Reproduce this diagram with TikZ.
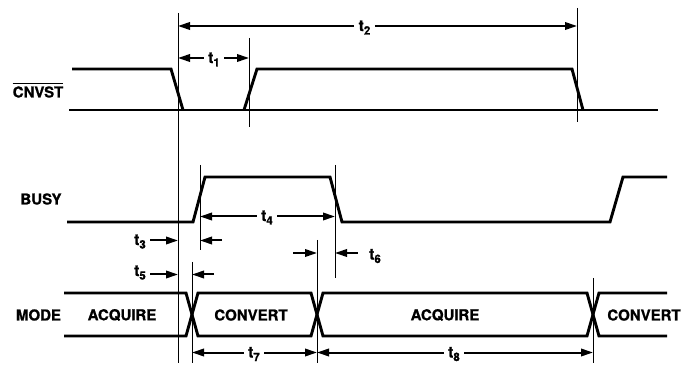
\documentclass[tikz,border=0pt]{standalone}
\usepackage{fontspec}
\setmainfont{TeX Gyre Heros}[BoldFeatures={FakeBold=1}]
\usetikzlibrary{arrows.meta}
\newcommand\tlab[1]{t\raisebox{-3.5pt}{\fontsize{11.5}{11.5}\selectfont #1}}
\tikzset{
  sig/.style={line width=2.9pt, line join=miter, line cap=butt},
  vline/.style={line width=1pt},
  dim/.style={line width=2pt, -{Triangle[length=12pt,width=7.5pt]}},
  lbl/.style={font=\fontsize{15}{15}\selectfont\bfseries, inner sep=0pt},
  tl/.style={font=\fontsize{15.5}{15.5}\selectfont\bfseries, inner ysep=0pt, inner xsep=4.5pt, anchor=base}
}
\begin{document}
\begin{tikzpicture}[x=1pt,y=-1pt]
\useasboundingbox (0,0) rectangle (686,366);

% ---- thin reference lines
\coordinate (vAt) at (178,13);  \coordinate (vAb) at (178,363);
\coordinate (vBt) at (249,38);  \coordinate (vBb) at (249,127);
\coordinate (vCt) at (577,8);   \coordinate (vCb) at (577,122);
\coordinate (vDt) at (200,165); \coordinate (vDb) at (200,250);
\coordinate (vEt) at (335,165); \coordinate (vEb) at (335,278);
\coordinate (vFt) at (192,262); \coordinate (vFb) at (192,363);
\coordinate (vGt) at (317,240); \coordinate (vGb) at (317,363);
\coordinate (vHt) at (593,278); \coordinate (vHb) at (593,363);
\foreach \v in {A,B,C,D,E,F,G,H} \draw[vline] (v\v t) -- (v\v b);

% ---- CNVST
\node[lbl] (cnvst) at (38,92) {CNVST};
\draw[line width=1.3pt] ([yshift=3pt]cnvst.north west) -- ([yshift=3pt]cnvst.north east);
\draw[sig] (69,110) -- (658,110);
\draw[sig] (72,69) -- (171,69) -- (183,110);
\draw[sig] (244,110) -- (257,69) -- (572,69) -- (583,110);

% ---- BUSY
\node[lbl] (busy) at (41,199) {BUSY};
\draw[sig] (67,222) -- (193,222) -- (205,177) -- (330,177) -- (342,222)
  -- (610,222) -- (623,177) -- (667,177);

% ---- MODE
\node[lbl] (mode) at (38.5,315) {MODE};
\draw[sig] (64,293) -- (186,293) -- (198,336) -- (311,336) -- (323,293)
  -- (587,293) -- (599,336) -- (667,336);
\draw[sig] (64,336) -- (186,336) -- (198,293) -- (311,293) -- (323,336)
  -- (587,336) -- (599,293) -- (667,293);
\node[lbl] (acq1) at (122,315) {ACQUIRE};
\node[lbl] (conv1) at (251,315) {CONVERT};
\node[lbl] (acq2) at (445,315) {ACQUIRE};
\node[lbl] (conv2) at (644,315) {CONVERT};

% ---- t2
\coordinate (t2L) at (178,26); \coordinate (t2R) at (577,26);
\node[tl] (t2) at (364.5,31) {\tlab{2}};
\draw[dim] (t2.west |- t2L) -- (t2L);
\draw[dim] (t2.east |- t2R) -- (t2R);

% ---- t1
\coordinate (t1L) at (178,58); \coordinate (t1R) at (249,58);
\node[tl] (t1) at (214,63) {\tlab{1}};
\draw[dim] (t1.west |- t1L) -- (t1L);
\draw[dim] (t1.east |- t1R) -- (t1R);

% ---- t4
\coordinate (t4L) at (200,216.5); \coordinate (t4R) at (335,216.5);
\node[tl] (t4) at (267,221) {\tlab{4}};
\draw[dim] (t4.west |- t4L) -- (t4L);
\draw[dim] (t4.east |- t4R) -- (t4R);

% ---- t3
\coordinate (t3R) at (178,240.5); \coordinate (t3D) at (200,240.5); \coordinate (t3Dtail) at (222,240.5);
\node[tl] (t3) at (140,245) {\tlab{3}};
\draw[dim] (t3.east |- t3R) -- (t3R);
\draw[dim] (t3Dtail) -- (t3D);

% ---- t5
\coordinate (t5R) at (178,274.5); \coordinate (t5F) at (192,274.5); \coordinate (t5Ftail) at (214,274.5);
\node[tl] (t5) at (140,276) {\tlab{5}};
\draw[dim] (t5.east |- t5R) -- (t5R);
\draw[dim] (t5Ftail) -- (t5F);

% ---- t6
\coordinate (t6G) at (317,253); \coordinate (t6Gtail) at (293,253);
\coordinate (t6E) at (335,253);
\node[tl] (t6) at (375,259.5) {\tlab{6}};
\draw[dim] (t6Gtail) -- (t6G);
\draw[dim] ([xshift=-7pt]t6.west |- t6E) -- (t6E);

% ---- t7, t8
\coordinate (t7L) at (192,352.5); \coordinate (t7R) at (317,352.5);
\coordinate (t8R) at (593,352.5);
\node[tl] (t7) at (254,357.5) {\tlab{7}};
\node[tl] (t8) at (454,357.5) {\tlab{8}};
\draw[dim] (t7.west |- t7L) -- (t7L);
\draw[dim] (t7.east |- t7R) -- (t7R);
\draw[dim] (t8.west |- t7R) -- (t7R);
\draw[dim] (t8.east |- t8R) -- (t8R);
\end{tikzpicture}
\end{document}
